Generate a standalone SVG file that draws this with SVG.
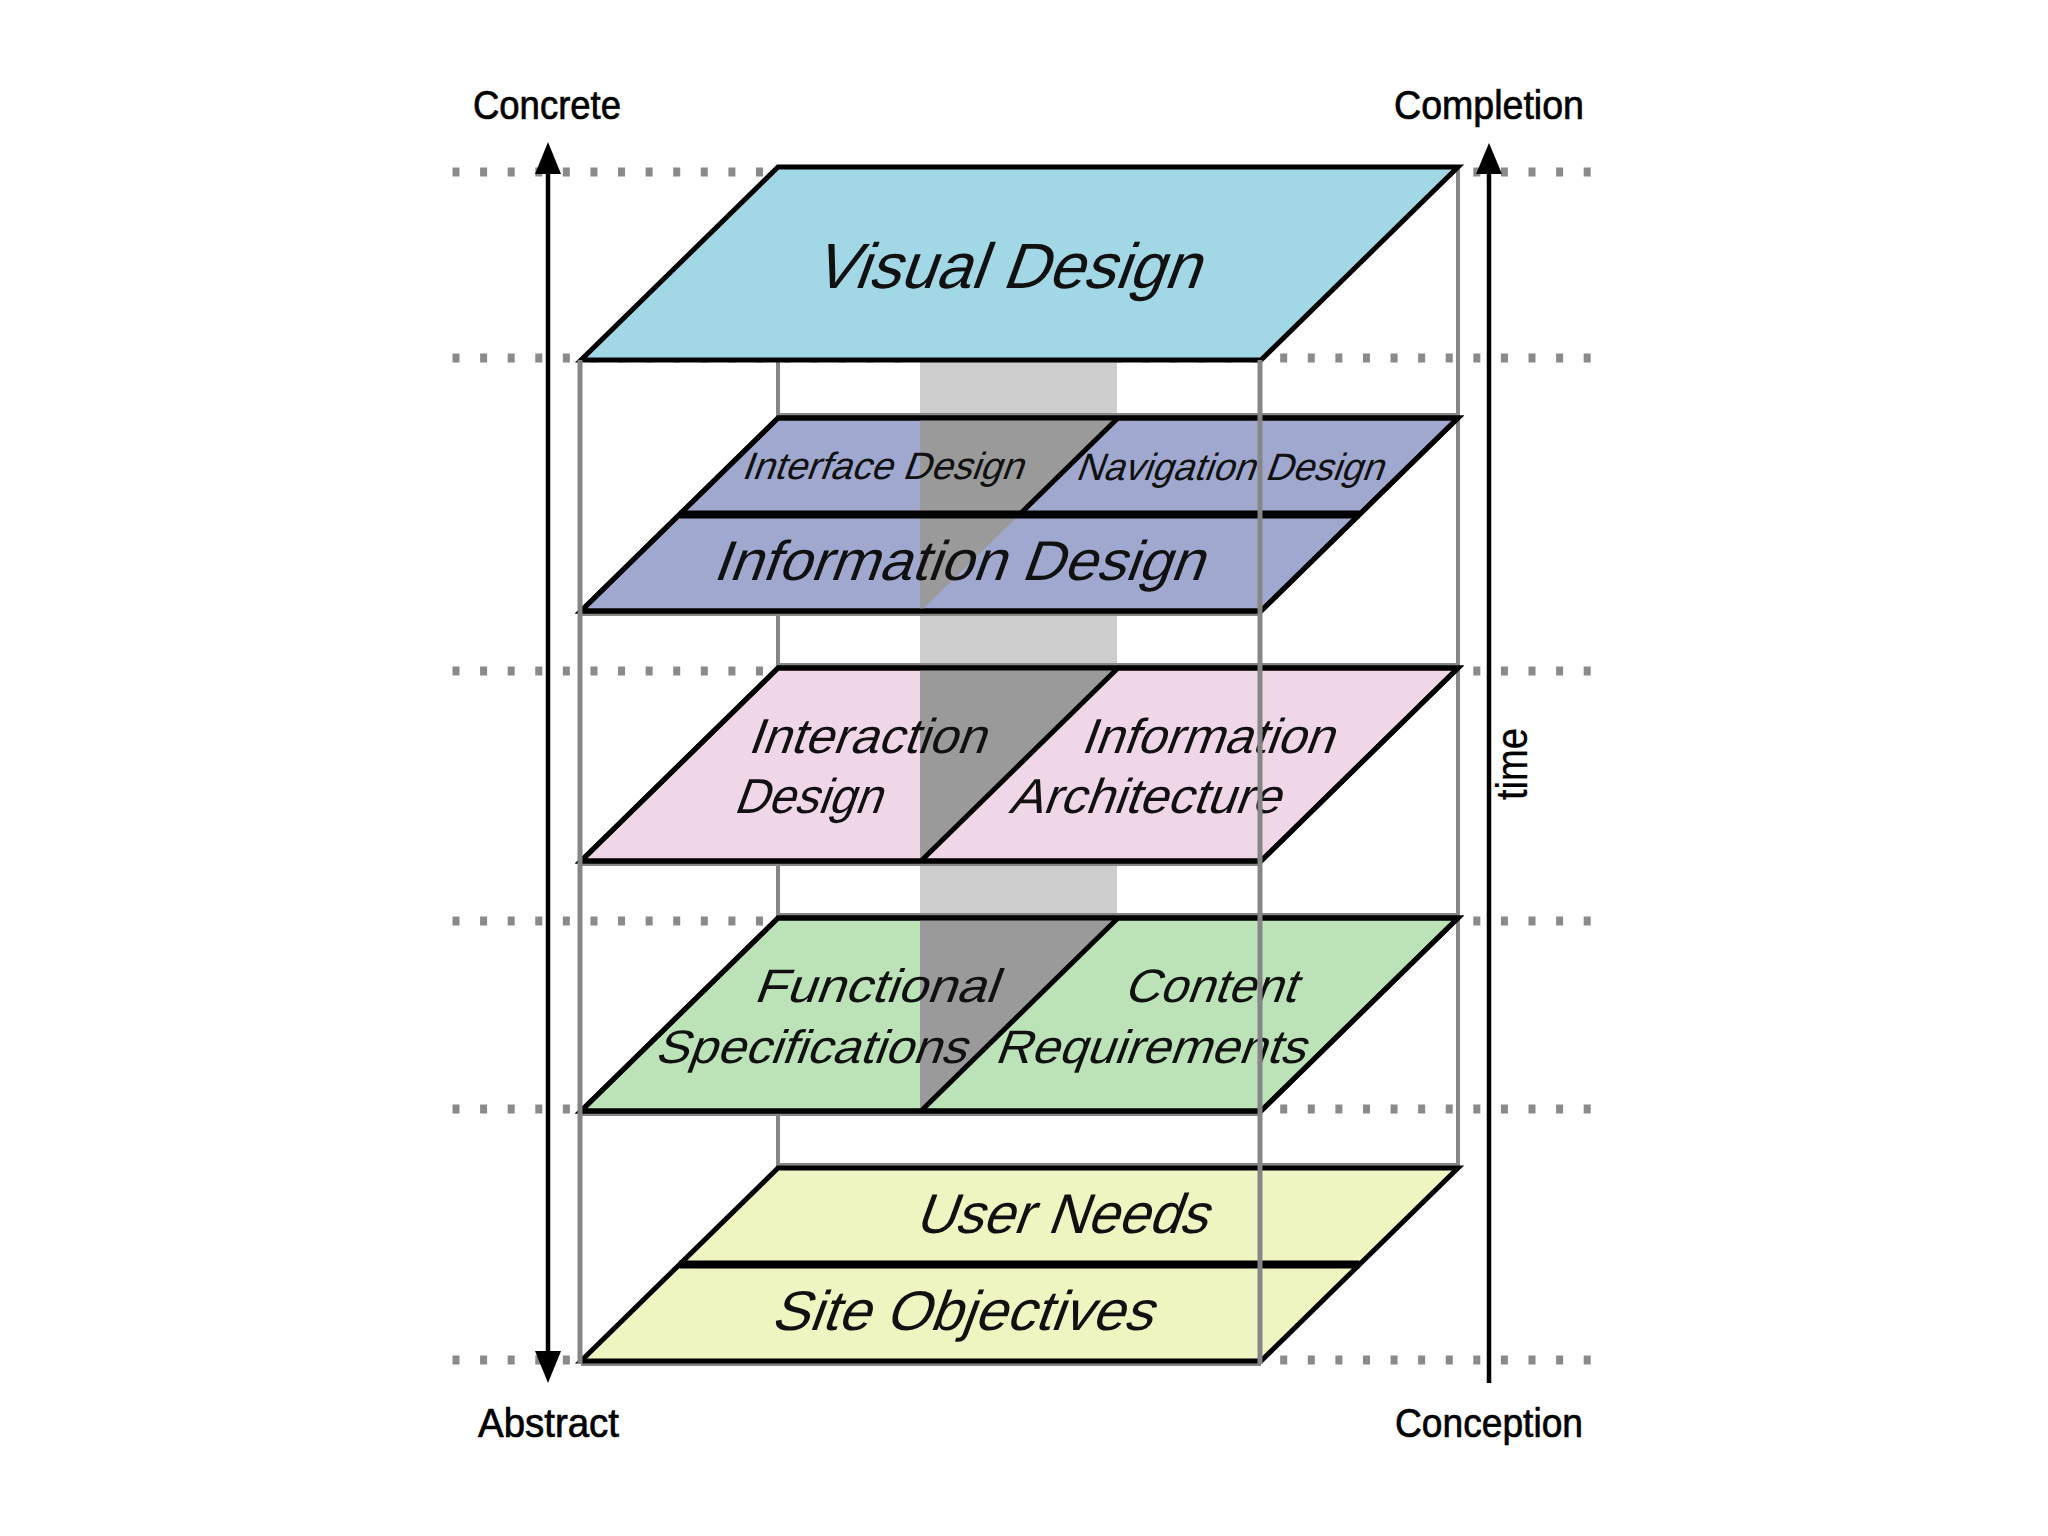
<svg xmlns="http://www.w3.org/2000/svg" width="2048" height="1536" viewBox="0 0 2048 1536">
<style>
.dots{stroke:#8a8a8a;stroke-width:9;stroke-dasharray:7 20.59;fill:none}
.box{stroke:#868686;stroke-width:4;fill:none}
.front{stroke:#868686;stroke-width:5;fill:none}
.plane{stroke:#000;stroke-width:5;stroke-linejoin:miter}
.div{stroke:#000;stroke-width:5;fill:none}
.thick{stroke:#000;stroke-width:8;fill:none}
.dark{fill:#9a9a9a}
.pl{font-family:"Liberation Sans",Arial,sans-serif;fill:#111}
.lbl{font-family:"Liberation Sans",Arial,sans-serif;font-size:40px;fill:#000;stroke:#000;stroke-width:0.7}
.axis{stroke:#000;stroke-width:4.5;fill:none}
</style>
<rect width="2048" height="1536" fill="#fff"/>
<g id="guides">
<line class="dots" x1="452.5" y1="172" x2="1591" y2="172"/>
<line class="dots" x1="452.5" y1="358" x2="1591" y2="358"/>
<line class="dots" x1="452.5" y1="671" x2="1591" y2="671"/>
<line class="dots" x1="452.5" y1="921" x2="1591" y2="921"/>
<line class="dots" x1="452.5" y1="1109" x2="1591" y2="1109"/>
<line class="dots" x1="452.5" y1="1360" x2="1591" y2="1360"/>
</g>
<g id="band">
<rect x="920" y="360" width="197" height="559" fill="#cdcdcd"/>
</g>
<g id="box-back">
<line class="box" x1="778" y1="167" x2="778" y2="1168"/>
<line class="box" x1="1458" y1="167" x2="1458" y2="1168"/>
<line class="box" x1="778" y1="415" x2="1458" y2="415"/>
<line class="box" x1="778" y1="665" x2="1458" y2="665"/>
<line class="box" x1="778" y1="915" x2="1458" y2="915"/>
<line class="box" x1="778" y1="1165" x2="1458" y2="1165"/>
<line class="box" x1="581" y1="614" x2="1261" y2="614"/>
<line class="box" x1="581" y1="864" x2="1261" y2="864"/>
<line class="box" x1="581" y1="1114" x2="1261" y2="1114"/>
<line class="box" x1="581" y1="1364" x2="1261" y2="1364"/>
</g>
<g id="visual-design">
<polygon class="plane" fill="#a2d8e6" points="778,167 1458,167 1261,360 581,360"/>
<text class="pl" font-size="64" transform="translate(812,288) skewX(-20)" textLength="386" lengthAdjust="spacingAndGlyphs">Visual Design</text>
</g>
<g id="information-design-layer">
<polygon class="plane" fill="#a0a8cf" points="778,418 1458,418 1261,611 581,611"/>
<polygon class="dark" points="920,418 1118,418 921,611 920,611"/>
<polygon fill="none" stroke="#000" stroke-width="5" points="778,418 1458,418 1261,611 581,611"/>
<line class="div" x1="1118" y1="418" x2="1019.5" y2="514.5"/>
<line class="thick" x1="679.5" y1="514.5" x2="1359.5" y2="514.5"/>
<text class="pl" font-size="38" transform="translate(741,479) skewX(-20)" textLength="281" lengthAdjust="spacingAndGlyphs">Interface Design</text>
<text class="pl" font-size="38" transform="translate(1075,480) skewX(-20)" textLength="307" lengthAdjust="spacingAndGlyphs">Navigation Design</text>
<text class="pl" font-size="56" transform="translate(712,580) skewX(-20)" textLength="490" lengthAdjust="spacingAndGlyphs">Information Design</text>
</g>
<g id="interaction-layer">
<polygon class="plane" fill="#efd7e7" points="778,668 1458,668 1261,861 581,861"/>
<polygon class="dark" points="920,668 1118,668 921,861 920,861"/>
<polygon fill="none" stroke="#000" stroke-width="5" points="778,668 1458,668 1261,861 581,861"/>
<line class="div" x1="1118" y1="668" x2="921" y2="861"/>
<text class="pl" font-size="49" transform="translate(747,753) skewX(-20)" textLength="237" lengthAdjust="spacingAndGlyphs">Interaction</text>
<text class="pl" font-size="49" transform="translate(733,813) skewX(-20)" textLength="147" lengthAdjust="spacingAndGlyphs">Design</text>
<text class="pl" font-size="49" transform="translate(1080,753) skewX(-20)" textLength="252" lengthAdjust="spacingAndGlyphs">Information</text>
<text class="pl" font-size="49" transform="translate(1008,813) skewX(-20)" textLength="271" lengthAdjust="spacingAndGlyphs">Architecture</text>
</g>
<g id="specifications-layer">
<polygon class="plane" fill="#bce2b8" points="778,918 1458,918 1261,1111 581,1111"/>
<polygon class="dark" points="920,918 1118,918 921,1111 920,1111"/>
<polygon fill="none" stroke="#000" stroke-width="5" points="778,918 1458,918 1261,1111 581,1111"/>
<line class="div" x1="1118" y1="918" x2="921" y2="1111"/>
<text class="pl" font-size="47" transform="translate(753,1002) skewX(-20)" textLength="243" lengthAdjust="spacingAndGlyphs">Functional</text>
<text class="pl" font-size="47" transform="translate(654,1063) skewX(-20)" textLength="311" lengthAdjust="spacingAndGlyphs">Specifications</text>
<text class="pl" font-size="47" transform="translate(1123,1002) skewX(-20)" textLength="172" lengthAdjust="spacingAndGlyphs">Content</text>
<text class="pl" font-size="47" transform="translate(994,1063) skewX(-20)" textLength="310" lengthAdjust="spacingAndGlyphs">Requirements</text>
</g>
<g id="objectives-layer">
<polygon class="plane" fill="#eff4c0" points="778,1168 1458,1168 1261,1361 581,1361"/>
<line class="thick" x1="679.5" y1="1264.5" x2="1359.5" y2="1264.5"/>
<text class="pl" font-size="56" transform="translate(914,1233) skewX(-20)" textLength="292" lengthAdjust="spacingAndGlyphs">User Needs</text>
<text class="pl" font-size="56" transform="translate(770,1330) skewX(-20)" textLength="381" lengthAdjust="spacingAndGlyphs">Site Objectives</text>
</g>
<g id="box-front">
<line class="front" x1="580" y1="360" x2="580" y2="1364"/>
<line class="front" x1="1260" y1="360" x2="1260" y2="1364"/>
</g>
<g id="connectors">
<line class="axis" x1="548" y1="168" x2="548" y2="1358"/>
<polygon points="548,142 535,174 561,174" fill="#000"/>
<polygon points="548,1383 535,1351 561,1351" fill="#000"/>
<line class="axis" x1="1489" y1="168" x2="1489" y2="1383"/>
<polygon points="1489,143 1476,174 1502,174" fill="#000"/>
</g>
<g id="labels">
<text class="lbl" x="473" y="119" textLength="148" lengthAdjust="spacingAndGlyphs">Concrete</text>
<text class="lbl" x="1394" y="119" textLength="190" lengthAdjust="spacingAndGlyphs">Completion</text>
<text class="lbl" x="478" y="1437" textLength="141" lengthAdjust="spacingAndGlyphs">Abstract</text>
<text class="lbl" x="1395" y="1437" textLength="188" lengthAdjust="spacingAndGlyphs">Conception</text>
<text class="lbl" transform="translate(1527,800) rotate(-90)" textLength="72" lengthAdjust="spacingAndGlyphs" style="font-size:44px;stroke-width:0.3">time</text>
</g>
</svg>
